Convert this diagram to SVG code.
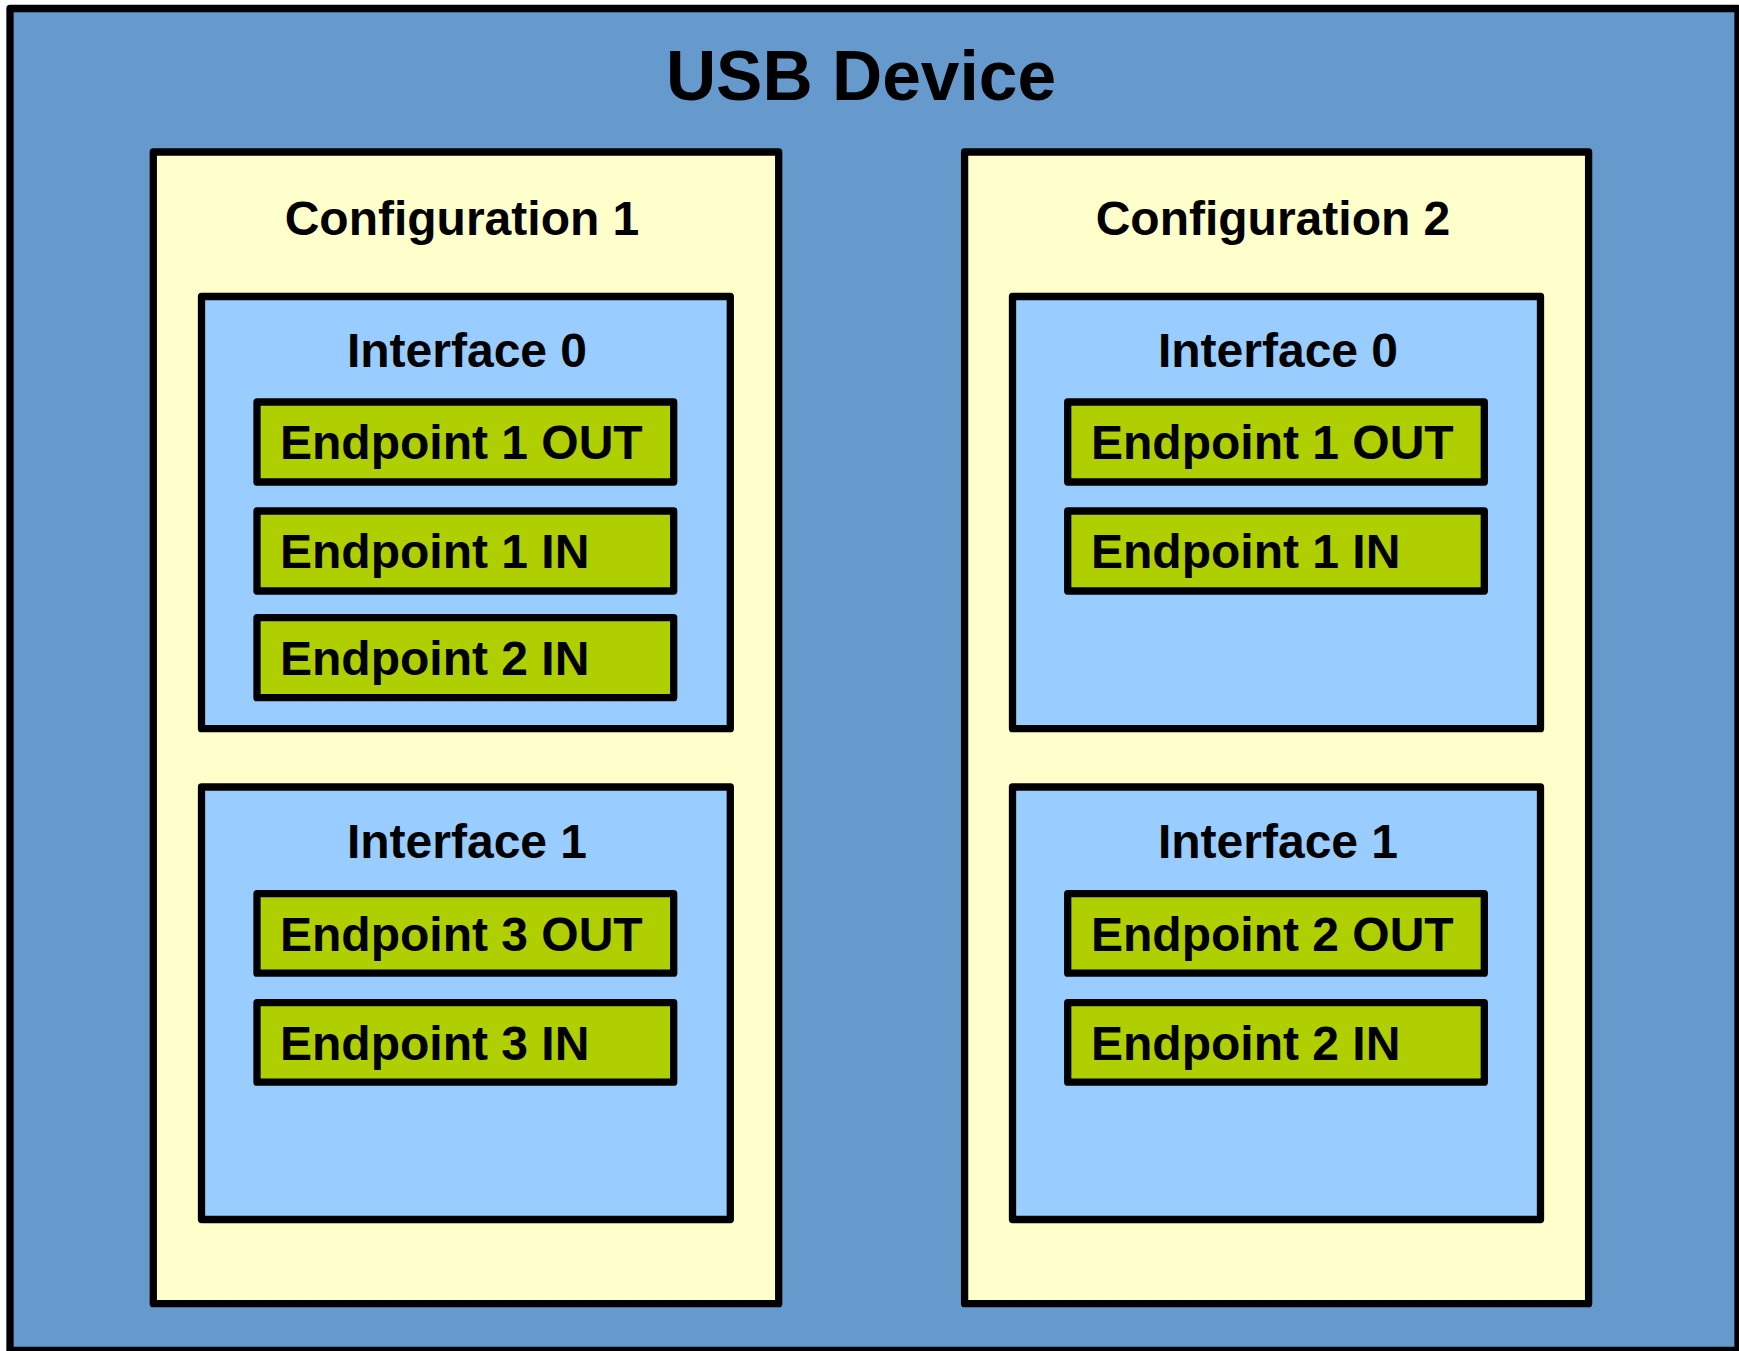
<svg xmlns="http://www.w3.org/2000/svg" width="1739" height="1351" viewBox="0 0 1739 1351">
<style>
rect{stroke:#000;stroke-width:7.3;stroke-linejoin:round}
.dev{fill:#6699cc}
.cfg{fill:#ffffcc}
.ifc{fill:#99ccff}
.ep{fill:#afcf00}
text{font-family:"Liberation Sans",Arial,sans-serif;font-weight:bold;fill:#000;font-size:48px}
.c{text-anchor:middle}
.title{font-size:69.5px}
</style>
<g id="usb-device">
<rect class="dev" x="10" y="8.5" width="1728" height="1342"/>
<text class="c title" x="861" y="99.5">USB Device</text>
</g>
<g id="config1">
<rect class="cfg" x="153.3" y="152" width="625.4" height="1151.7"/>
<text class="c" x="462" y="235">Configuration 1</text>
</g>
<g id="config2">
<rect class="cfg" x="964.6" y="152" width="624" height="1151.7"/>
<text class="c" x="1273" y="235">Configuration 2</text>
</g>
<g id="c1-interface0">
<rect class="ifc" x="201.5" y="296.5" width="528.8" height="432.2"/>
<text class="c" x="467" y="367">Interface 0</text>
</g>
<g id="c1-interface1">
<rect class="ifc" x="201.5" y="787" width="528.8" height="432.5"/>
<text class="c" x="467" y="857.5">Interface 1</text>
</g>
<g id="c2-interface0">
<rect class="ifc" x="1012.5" y="296.5" width="528" height="432.2"/>
<text class="c" x="1278" y="367">Interface 0</text>
</g>
<g id="c2-interface1">
<rect class="ifc" x="1012.5" y="787" width="528" height="432.5"/>
<text class="c" x="1278" y="857.5">Interface 1</text>
</g>
<g id="c1-ep1out"><rect class="ep" x="257" y="402" width="416.7" height="80"/><text x="280" y="459">Endpoint 1 OUT</text></g>
<g id="c1-ep1in"><rect class="ep" x="257" y="511" width="416.7" height="80"/><text x="280" y="568">Endpoint 1 IN</text></g>
<g id="c1-ep2in"><rect class="ep" x="257" y="617.7" width="416.7" height="80"/><text x="280" y="675">Endpoint 2 IN</text></g>
<g id="c1-ep3out"><rect class="ep" x="257" y="893.7" width="416.7" height="79.5"/><text x="280" y="950.5">Endpoint 3 OUT</text></g>
<g id="c1-ep3in"><rect class="ep" x="257" y="1002.7" width="416.7" height="79.5"/><text x="280" y="1059.5">Endpoint 3 IN</text></g>
<g id="c2-ep1out"><rect class="ep" x="1067.7" y="402" width="416.6" height="80"/><text x="1091" y="459">Endpoint 1 OUT</text></g>
<g id="c2-ep1in"><rect class="ep" x="1067.7" y="511" width="416.6" height="80"/><text x="1091" y="568">Endpoint 1 IN</text></g>
<g id="c2-ep2out"><rect class="ep" x="1067.7" y="893.7" width="416.6" height="79.5"/><text x="1091" y="950.5">Endpoint 2 OUT</text></g>
<g id="c2-ep2in"><rect class="ep" x="1067.7" y="1002.7" width="416.6" height="79.5"/><text x="1091" y="1059.5">Endpoint 2 IN</text></g>
<g id="connectors"/>
</svg>
